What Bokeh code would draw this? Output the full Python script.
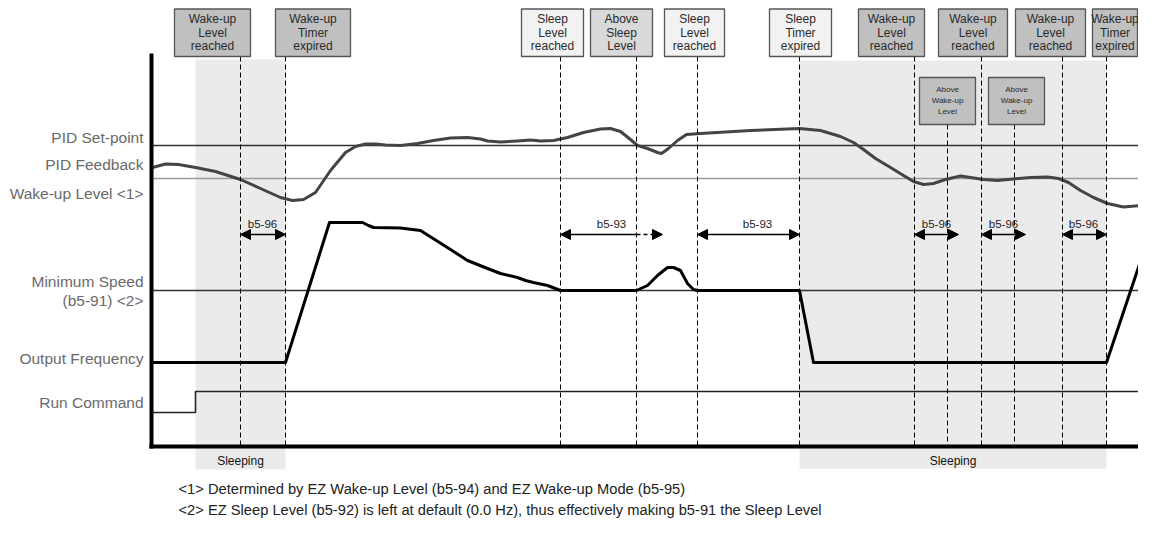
from bokeh.plotting import figure
from bokeh.models import Range1d, Arrow, NormalHead
from bokeh.core.properties import value
from bokeh.embed import file_html
from bokeh.resources import INLINE

# ---------------- data (diagram units: x = time, y = level, y grows downward) ----
fb_t = [152, 165, 178, 195, 215, 240, 260, 280, 292, 303, 315, 330, 345, 355, 365,
        375, 385, 400, 417, 433, 450, 467, 480, 487, 500, 517, 530, 540, 553, 567,
        583, 600, 610, 620, 630, 637, 647, 657, 661, 668, 677, 686, 700, 750, 799,
        820, 840, 853, 863, 875, 890, 903, 913, 923, 933, 945, 960, 970, 983, 997,
        1013, 1030, 1047, 1058, 1068, 1080, 1093, 1107, 1123, 1140, 1154]
fb_y = [167, 163.5, 164, 167, 171, 179, 188, 197, 200, 199, 192, 170, 152, 146, 143.5,
        143.5, 144.5, 145, 143, 140, 137.5, 137, 138.5, 140.5, 141.5, 140.5, 139.5, 140.5, 140, 137,
        132, 128.5, 128, 131, 139, 145, 148, 152, 153, 148, 140, 134, 133, 130, 128,
        130, 136, 142, 149, 158, 167, 175, 181, 184, 183, 179, 175.5, 177, 179, 180,
        178.5, 177, 176.5, 178, 182, 190, 197, 203, 206.5, 205, 199]

of_t = [152, 285, 329, 362, 368, 373, 400, 420, 450, 467, 487, 500, 517, 525, 533,
        547, 560, 636, 647, 657, 667, 673, 680, 687, 693, 697, 799, 813, 1106, 1153]
of_y = [362, 362, 222, 222, 225, 227, 227.5, 230, 249, 260, 268, 273, 277, 280, 282,
        285, 290, 290, 285, 275, 267, 267, 270, 283, 289, 290, 290, 362, 362, 222]

run_t = [152, 195, 195, 1154]
run_y = [412, 412, 391, 391]

setpoint_level = 145
wakeup_level = 178
minspeed_level = 290

event_t = [240, 285, 560, 636, 697, 799, 914, 947, 981, 1014, 1062, 1106]
sleep_start = [195, 799]
sleep_end = [285, 1106]

signal_labels = ["PID Set-point", "PID Feedback", "Wake-up Level <1>", "Minimum Speed",
                 "(b5-91) <2>", "Output Frequency", "Run Command"]

top_labels = [["Wake-up", "Level", "reached"], ["Wake-up", "Timer", "expired"],
              ["Sleep", "Level", "reached"], ["Above", "Sleep", "Level"],
              ["Sleep", "Level", "reached"], ["Sleep", "Timer", "expired"],
              ["Wake-up", "Level", "reached"], ["Wake-up", "Level", "reached"],
              ["Wake-up", "Level", "reached"], ["Wake-up", "Timer", "expired"]]
top_kind = ["wake", "wake", "sleep", "above", "sleep", "sleep", "wake", "wake", "wake", "wake"]
above_labels = [["Above", "Wake-up", "Level"], ["Above", "Wake-up", "Level"]]

span_labels = ["b5-96", "b5-93", "b5-93", "b5-96", "b5-96", "b5-96"]
footnotes = ["<1> Determined by EZ Wake-up Level (b5-94) and EZ Wake-up Mode (b5-95)",
             "<2> EZ Sleep Level (b5-92) is left at default (0.0 Hz), thus effectively making b5-91 the Sleep Level"]

# ---------------- layout ----------------
W, H = 1138, 520
p = figure(width=W, height=H, output_backend="svg", toolbar_location=None,
           x_axis_type=None, y_axis_type=None, min_border=0,
           x_range=Range1d(0, W), y_range=Range1d(H, 0))
p.outline_line_color = None
p.xgrid.visible = False
p.ygrid.visible = False
p.background_fill_color = "white"
p.border_fill_color = "white"

FONT = value("Liberation Sans")

# sleeping shading
p.quad(left=sleep_start, right=sleep_end, top=[59, 60], bottom=[469, 468],
       fill_color="#ebebeb", line_color=None)
p.text(x=[(a + b) / 2 for a, b in zip(sleep_start, sleep_end)], y=[460, 460],
       text=["Sleeping", "Sleeping"], text_font=FONT, text_font_size=value("12px"),
       text_align="center", text_baseline="middle", text_color="#111111")

# reference level lines
p.line([152, 1154], [setpoint_level] * 2, line_color="#333333", line_width=1.6)
p.line([152, 1154], [wakeup_level] * 2, line_color="#9a9a9a", line_width=1.6)
p.line([152, 1154], [minspeed_level] * 2, line_color="#333333", line_width=1.6)
p.line(run_t, run_y, line_color="#222222", line_width=1.6)

# signals
p.line(fb_t, fb_y, line_color="#444444", line_width=3, line_join="round")
p.line(of_t, of_y, line_color="#000000", line_width=3, line_join="round")

# dashed event lines
tops = [56] * len(event_t)
tops[event_t.index(947)] = 124
tops[event_t.index(1014)] = 124
p.segment(x0=event_t, y0=tops, x1=event_t, y1=[446] * len(event_t),
          line_color="#000000", line_width=1, line_dash="5 3")

# axes (thick)
p.line([151, 151], [53, 448], line_color="#000000", line_width=4)
p.line([149, 1154], [446, 446], line_color="#000000", line_width=4)

# top boxes
box_l = [174, 275, 521, 590, 664, 769, 858, 938, 1015, 1092]
box_r = [250, 350, 583, 652, 724, 831, 924, 1007, 1085, 1137]
fills = {"wake": "#c0c0c0", "sleep": "#f2f2f2", "above": "#d9d9d9"}
p.quad(left=box_l, right=box_r, top=[8.5] * 10, bottom=[56] * 10,
       fill_color=[fills[k] for k in top_kind], line_color="#555555", line_width=1.3)
tx, ty, tt = [], [], []
for l, r, lines in zip(box_l, box_r, top_labels):
    for i, s in enumerate(lines):
        tx.append((l + r) / 2)
        ty.append(18.5 + 13.7 * i)
        tt.append(s)
p.text(x=tx, y=ty, text=tt, text_font=FONT, text_font_size=value("12px"),
       text_align="center", text_baseline="middle", text_color="#2a2a2a")

# above wake-up boxes
ab_l = [919, 988]
ab_r = [975, 1044]
p.quad(left=ab_l, right=ab_r, top=[77, 77], bottom=[124, 124],
       fill_color="#c0c0c0", line_color="#555555", line_width=1.3)
ax, ay, at = [], [], []
for l, r, lines in zip(ab_l, ab_r, above_labels):
    for i, s in enumerate(lines):
        ax.append((l + r) / 2)
        ay.append(89 + 11 * i)
        at.append(s)
p.text(x=ax, y=ay, text=at, text_font=FONT, text_font_size=value("8px"),
       text_align="center", text_baseline="middle", text_color="#2a2a2a")

# span arrows
spans = [(240, 285), (560, 662), (697, 799), (914, 958), (981, 1025), (1062, 1106)]
label_x = [262, 611, 757, 936, 1003, 1083]
AY = 234


def head():
    return NormalHead(size=10, fill_color="black", line_color="black", line_width=1)


for i, (a, b) in enumerate(spans):
    if i == 1:
        p.add_layout(Arrow(end=head(), x_start=636, y_start=AY, x_end=a, y_end=AY,
                           line_width=1.3))
        p.add_layout(Arrow(end=head(), x_start=636, y_start=AY, x_end=b, y_end=AY,
                           line_width=1.3, line_dash="4 3"))
    else:
        p.add_layout(Arrow(start=head(), end=head(), x_start=a, y_start=AY, x_end=b, y_end=AY,
                           line_width=1.3))
p.text(x=label_x, y=[223] * len(label_x), text=span_labels, text_font=FONT,
       text_font_size=value("11.5px"), text_align="center", text_baseline="middle",
       text_color="#222222")

# signal labels
p.text(x=[143] * 7, y=[137, 164, 193, 281, 300, 358, 402], text=signal_labels,
       text_font=FONT, text_font_size=value("15.5px"), text_align="right",
       text_baseline="middle", text_color="#6a6a6a")

# footnotes
p.text(x=[178, 178], y=[488, 509], text=footnotes, text_font=FONT,
       text_font_size=value("14.7px"), text_align="left", text_baseline="middle",
       text_color="#222222")

open("out.html", "w").write(file_html(p, INLINE))
